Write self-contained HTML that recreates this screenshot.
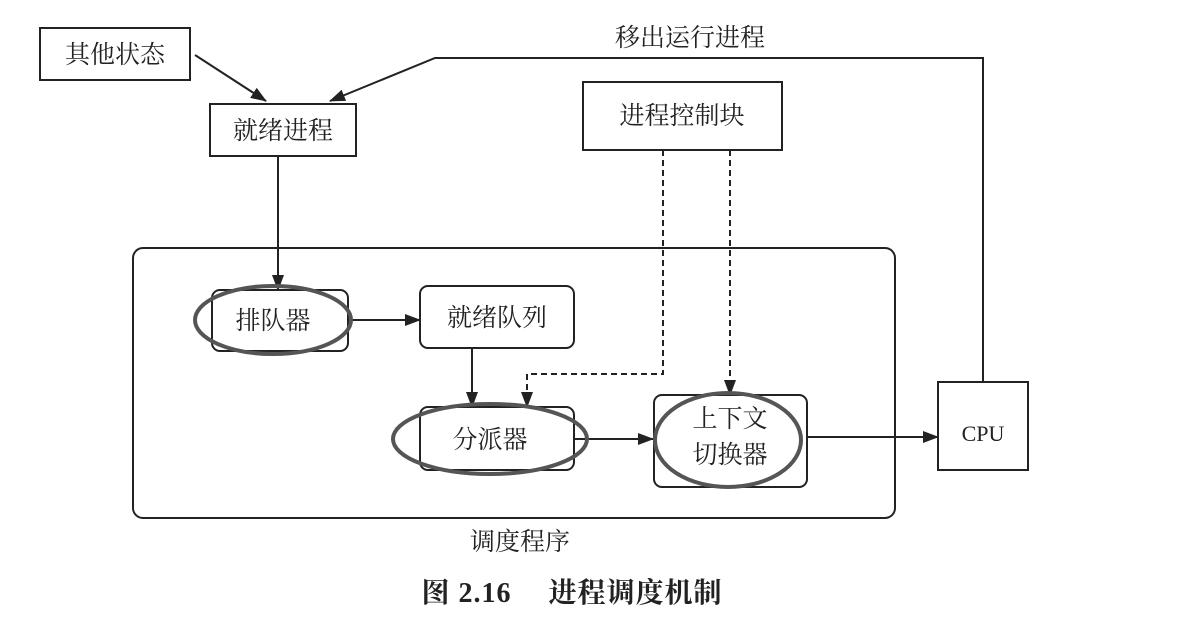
<!DOCTYPE html>
<html><head><meta charset="utf-8"><style>
body{margin:0;background:#fff;}
svg text{font-family:"Liberation Serif","Noto Serif CJK SC","Noto Sans CJK SC",serif;fill:#222;}
</style></head><body>
<svg width="1178" height="637" viewBox="0 0 1178 637" xmlns="http://www.w3.org/2000/svg">
<defs><marker id="a" markerWidth="16" markerHeight="12" refX="15" refY="6" orient="auto" markerUnits="userSpaceOnUse"><path d="M0,0 L16,6 L0,12 Z" fill="#222"/></marker></defs>
<g fill="none" stroke="#222" stroke-width="2">
<rect x="40" y="28" width="150" height="52"/>
<rect x="210" y="104" width="146" height="52"/>
<rect x="583" y="82" width="199" height="68"/>
<rect x="938" y="382" width="90" height="88"/>
<rect x="133" y="248" width="762" height="270" rx="10"/>
<rect x="212" y="290" width="136" height="61" rx="8"/>
<rect x="420" y="286" width="154" height="62" rx="8"/>
<rect x="420" y="407" width="154" height="63" rx="8"/>
<rect x="654" y="395" width="153" height="92" rx="8"/>
<line x1="195" y1="55" x2="266" y2="101" marker-end="url(#a)"/>
<polyline points="983,382 983,58 435,58 330,101" marker-end="url(#a)"/>
<line x1="278" y1="156" x2="278" y2="290" marker-end="url(#a)"/>
<line x1="348" y1="320" x2="420" y2="320" marker-end="url(#a)"/>
<line x1="472" y1="348" x2="472" y2="407" marker-end="url(#a)"/>
<polyline points="663,150 663,374 527,374 527,407" stroke-dasharray="6,4" marker-end="url(#a)"/>
<line x1="730" y1="150" x2="730" y2="395" stroke-dasharray="6,4" marker-end="url(#a)"/>
<line x1="575" y1="439" x2="653" y2="439" marker-end="url(#a)"/>
<line x1="807" y1="437" x2="938" y2="437" marker-end="url(#a)"/>
</g>
<g fill="none" stroke="#555" stroke-width="4">
<ellipse cx="273" cy="320" rx="78" ry="34"/>
<ellipse cx="490" cy="439" rx="97" ry="35"/>
<ellipse cx="728" cy="440" rx="73" ry="47"/>
</g>
<g font-size="25" text-anchor="middle">
<text x="115" y="63">其他状态</text>
<text x="283" y="139">就绪进程</text>
<text x="682" y="124">进程控制块</text>
<text x="690" y="46">移出运行进程</text>
<text x="273" y="329">排队器</text>
<text x="497" y="326">就绪队列</text>
<text x="490" y="448">分派器</text>
<text x="730" y="427">上下文</text>
<text x="730" y="463">切换器</text>
<text x="983" y="441" font-size="22">CPU</text>
<text x="520" y="550">调度程序</text>
<text x="572" y="602" font-weight="bold" font-size="28" letter-spacing="1">图 2.16　 进程调度机制</text>
</g>
</svg>
</body></html>
